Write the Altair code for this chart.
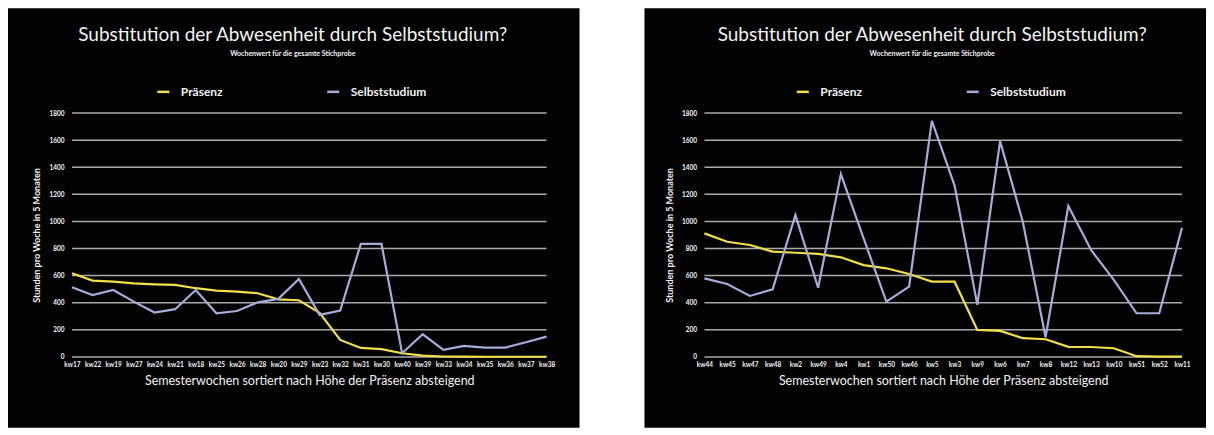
import altair as alt
import pandas as pd

# ---------------- data ----------------
left_weeks = ["kw17", "kw22", "kw19", "kw27", "kw24", "kw21", "kw18", "kw25", "kw26", "kw28",
              "kw20", "kw29", "kw23", "kw32", "kw31", "kw30", "kw40", "kw39", "kw33", "kw34",
              "kw35", "kw36", "kw37", "kw38"]
left_praesenz = [617, 563, 556, 543, 536, 531, 507, 489, 482, 470,
                 425, 418, 325, 125, 66, 57, 27, 10, 3, 2,
                 1, 1, 1, 1]
left_selbst = [514, 457, 494, 408, 327, 352, 494, 322, 339, 403,
               428, 575, 310, 342, 834, 834, 27, 167, 52, 81,
               69, 69, 108, 150]

right_weeks = ["kw44", "kw45", "kw47", "kw48", "kw2", "kw49", "kw4", "kw1", "kw50", "kw46",
               "kw5", "kw3", "kw9", "kw6", "kw7", "kw8", "kw12", "kw13", "kw10", "kw51",
               "kw52", "kw11"]
right_praesenz = [912, 850, 826, 777, 769, 760, 735, 678, 654, 612,
                  556, 555, 199, 192, 138, 130, 74, 73, 64, 5,
                  2, 2]
right_selbst = [580, 538, 450, 499, 1047, 511, 1350, 875, 408, 518,
                1743, 1265, 384, 1593, 998, 145, 1114, 789, 568, 322,
                322, 954]

series_names = ["Präsenz", "Selbststudium"]
series_colors = ["#efe04a", "#a6acd8"]
y_ticks = [0, 200, 400, 600, 800, 1000, 1200, 1400, 1600, 1800]

title_text = "Substitution der Abwesenheit durch Selbststudium?"
subtitle_text = "Wochenwert für die gesamte Stichprobe"
x_title = "Semesterwochen sortiert nach Höhe der Präsenz absteigend"
y_title = "Stunden pro Woche in 5 Monaten"

FONT = "Lato"
WHITE = "#f2f2f2"
GRID = "#a9a9a9"


def long_table(weeks, praesenz, selbst):
    rows = []
    for w, a, b in zip(weeks, praesenz, selbst):
        rows.append({"week": w, "series": series_names[0], "value": a})
        rows.append({"week": w, "series": series_names[1], "value": b})
    return pd.DataFrame(rows)


def y_axis():
    return alt.Axis(values=y_ticks, format="d", grid=False, ticks=False, domain=False, zindex=2,
                    labelColor=WHITE, labelFont=FONT, labelFontSize=6.5, labelFontWeight="bold",
                    labelPadding=8, title=y_title, titleColor=WHITE, titleFont=FONT,
                    titleFontSize=9, titleFontWeight="bold", titlePadding=7)


def panel(weeks, praesenz, selbst, w, h, pad_l, pad_r, pad_t, pad_b, legend_x, title_x):
    df = long_table(weeks, praesenz, selbst)
    yscale = alt.Scale(domain=[0, 1800], nice=False)

    bg = alt.Chart(pd.DataFrame({"k": [0]})).mark_rect(color="#020202", clip=False).encode(
        x=alt.value(-pad_l), x2=alt.value(w + pad_r),
        y=alt.value(-pad_t), y2=alt.value(h + pad_b))

    grid = alt.Chart(pd.DataFrame({"value": y_ticks})).mark_rule(
        color=GRID, strokeWidth=1.5).encode(
        y=alt.Y("value:Q", scale=yscale, axis=y_axis()),
        x=alt.value(0), x2=alt.value(w))

    lines = alt.Chart(df).mark_line(strokeWidth=2.2).encode(
        x=alt.X("week:N", sort=weeks, scale=alt.Scale(padding=0),
                axis=alt.Axis(labelAngle=0, ticks=False, domain=False, grid=False, zindex=2,
                              labelColor=WHITE, labelFont=FONT, labelFontSize=6.5,
                              labelFontWeight="bold", labelPadding=5, labelOverlap=False,
                              title=x_title, titleColor=WHITE, titleFont=FONT,
                              titleFontSize=12.5, titleFontWeight="normal", titlePadding=6)),
        y=alt.Y("value:Q", scale=yscale, axis=y_axis()),
        color=alt.Color("series:N", sort=series_names,
                        scale=alt.Scale(domain=series_names, range=series_colors),
                        legend=alt.Legend(orient="none", legendX=legend_x, legendY=-29,
                                          direction="horizontal", title=None, zindex=2,
                                          symbolType="stroke", symbolSize=144,
                                          symbolStrokeWidth=2.5, labelOffset=10,
                                          columnPadding=99, labelColor=WHITE,
                                          labelFont=FONT, labelFontSize=12,
                                          labelFontWeight="bold")),
        detail="series:N")

    title = alt.Chart(pd.DataFrame({"t": [title_text]})).mark_text(
        font=FONT, fontSize=19, color=WHITE, align="center", baseline="middle").encode(
        x=alt.value(title_x), y=alt.value(-78), text="t:N")
    subtitle = alt.Chart(pd.DataFrame({"t": [subtitle_text]})).mark_text(
        font=FONT, fontSize=7, fontWeight="bold", color=WHITE, align="center",
        baseline="middle").encode(
        x=alt.value(title_x), y=alt.value(-59), text="t:N")

    return alt.layer(bg, grid, lines, title, subtitle).properties(width=w, height=h)


left = panel(left_weeks, left_praesenz, left_selbst, 475, 244, 64, 33, 105, 71, 84, 221)
right = panel(right_weeks, right_praesenz, right_selbst, 478, 244, 60, 24, 105, 71, 91, 228)

chart = alt.hconcat(left, right, spacing=65).resolve_scale(
    color="independent", x="independent", y="independent"
).resolve_legend(color="independent").configure(
    background="white", padding=0
).configure_view(stroke=None)

chart.save("out.html", embed_options={"renderer": "svg", "actions": False})
